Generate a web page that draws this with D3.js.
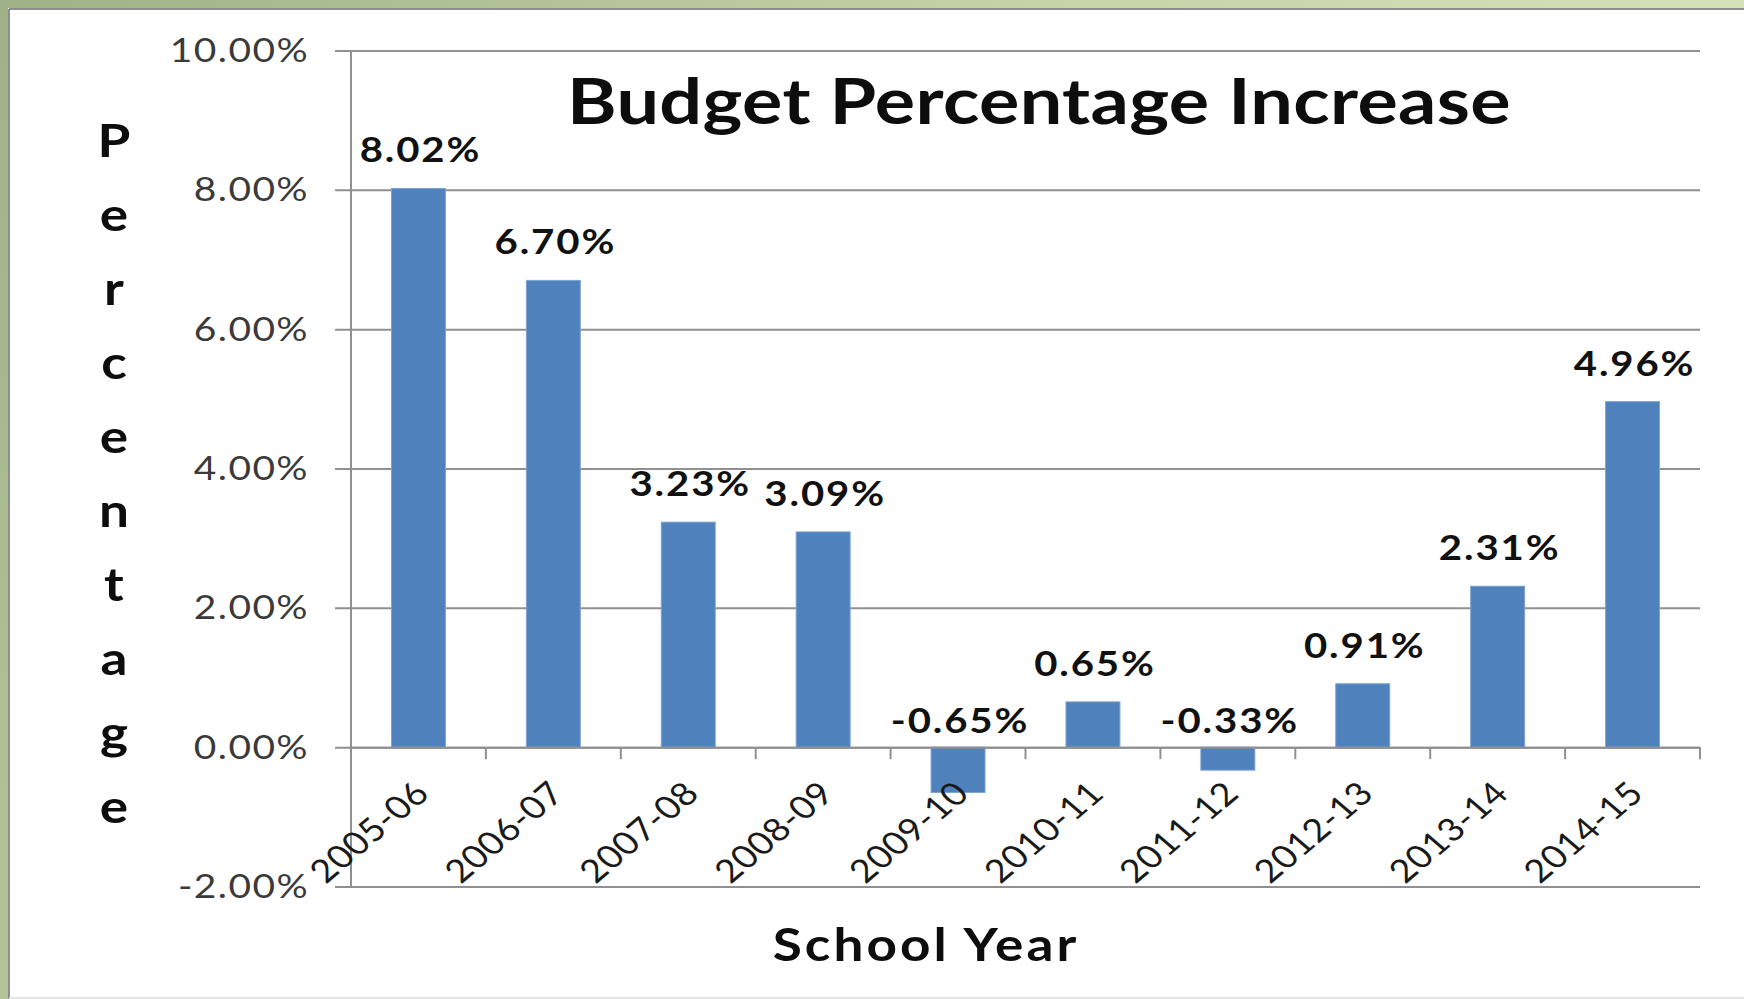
<!DOCTYPE html>
<html>
<head>
<meta charset="utf-8">
<script src="https://cdn.jsdelivr.net/npm/d3@7"></script>
<style>
  html, body { margin: 0; padding: 0; background: #fff; }
  svg { display: block; }
  text { font-family: Lato, "Open Sans", sans-serif; }
</style>
</head>
<body>
<div id="chart"></div>
<script>
// data
var categories = ["2005-06", "2006-07", "2007-08", "2008-09", "2009-10",
                  "2010-11", "2011-12", "2012-13", "2013-14", "2014-15"];
var values = [8.02, 6.70, 3.23, 3.09, -0.65, 0.65, -0.33, 0.91, 2.31, 4.96];
var yTicks = [-2, 0, 2, 4, 6, 8, 10];
var yTitleLetters = "Percentage".split("");

var width = 1744, height = 999
  , plotLeft = 351, plotRight = 1700
  , plotTop = 50.5, plotBottom = 886.5
  , stretch = 1.18          // the picture text is a bit wide
  , barColor = "#4F81BD"
  , gridColor = "#909090";

var svg = d3.select("#chart").append("svg")
    .attr("width", width)
    .attr("height", height);

// frame round the slide
var defs = svg.append("defs");
var grad = defs.append("linearGradient")
    .attr("id", "frame")
    .attr("gradientUnits", "userSpaceOnUse")
    .attr("x1", 0).attr("y1", 0).attr("x2", width).attr("y2", height);
grad.append("stop").attr("offset", "0%").attr("stop-color", "#9fb287");
grad.append("stop").attr("offset", "45%").attr("stop-color", "#c3d4a6");
grad.append("stop").attr("offset", "100%").attr("stop-color", "#e2ecca");

svg.append("rect").attr("x", 0).attr("y", 0).attr("width", width).attr("height", 8).attr("fill", "url(#frame)");
svg.append("rect").attr("x", 0).attr("y", 0).attr("width", 8).attr("height", height).attr("fill", "url(#frame)");
svg.append("line").attr("x1", 9).attr("x2", width).attr("y1", 9).attr("y2", 9)
    .attr("stroke", "#8e8e8e").attr("stroke-width", 2);
svg.append("line").attr("x1", 9).attr("x2", 9).attr("y1", 9).attr("y2", height)
    .attr("stroke", "#8e8e8e").attr("stroke-width", 2);
svg.append("line").attr("x1", 9).attr("x2", width).attr("y1", height - 1).attr("y2", height - 1)
    .attr("stroke", "#e4e4e4").attr("stroke-width", 2);

// scales
var y = d3.scaleLinear().domain([-2, 10]).range([plotBottom, plotTop]);
var xBand = d3.scaleBand().domain(categories).range([plotLeft, plotRight]).padding(0);
var xBar = d3.scaleBand().domain(categories).range([plotLeft, plotRight])
    .paddingInner(0.6).paddingOuter(0.3);

// plain hyphen for negatives, like the original
var locale = d3.formatLocale({decimal: ".", thousands: ",", grouping: [3], currency: ["", ""], minus: "-"});
var fmt = function (d) { return locale.format(".2f")(d) + "%"; };

// y axis with gridlines
var yAxis = d3.axisLeft(y)
    .tickValues(yTicks)
    .tickFormat(fmt)
    .tickSizeInner(-(plotRight - plotLeft))
    .tickSizeOuter(0);

var gy = svg.append("g")
    .attr("transform", "translate(" + plotLeft + ",0)")
    .call(yAxis);
gy.select(".domain").remove();
gy.selectAll(".tick line")
    .attr("x1", -16)
    .attr("stroke", gridColor)
    .attr("stroke-width", 2);
gy.selectAll(".tick text")
    .attr("x", null)
    .attr("dy", "0.33em")
    .attr("text-anchor", "end")
    .attr("transform", "translate(-42,0) scale(" + stretch + ",1)")
    .style("font-size", "33px")
    .style("letter-spacing", "1.2px")
    .style("fill", "#3a3a3a");

// y axis line
svg.append("line")
    .attr("x1", plotLeft).attr("x2", plotLeft)
    .attr("y1", y(10)).attr("y2", y(-2))
    .attr("stroke", gridColor).attr("stroke-width", 2);

// bars
svg.append("g").selectAll("rect")
    .data(values)
    .enter().append("rect")
    .attr("x", function (d, i) { return xBar(categories[i]); })
    .attr("y", function (d) { return y(Math.max(0, d)); })
    .attr("width", xBar.bandwidth())
    .attr("height", function (d) { return Math.abs(y(d) - y(0)); })
    .attr("fill", barColor)
    .attr("stroke", "#7ea3d3")
    .attr("stroke-width", 1);

// category axis at zero
var xAxis = d3.axisBottom(xBand).tickSize(0).tickSizeOuter(0);
var gx = svg.append("g")
    .attr("transform", "translate(0," + y(0) + ")")
    .call(xAxis);
gx.select(".domain")
    .attr("stroke", gridColor)
    .attr("stroke-width", 2);
gx.selectAll(".tick text")
    .attr("y", null)
    .attr("dy", null)
    .attr("text-anchor", "end")
    .attr("transform", "translate(13,48) scale(" + stretch + ",1) rotate(-45)")
    .style("font-size", "32px")
    .style("letter-spacing", "0.5px")
    .style("fill", "#1a1a1a");

// tick marks between categories
var bounds = categories.map(function (c) { return xBand(c); }).concat([plotRight]);
gx.selectAll(".sep")
    .data(bounds)
    .enter().append("line")
    .attr("class", "sep")
    .attr("x1", function (d) { return d; })
    .attr("x2", function (d) { return d; })
    .attr("y1", 0)
    .attr("y2", 12)
    .attr("stroke", gridColor)
    .attr("stroke-width", 2);

// data labels
svg.append("g").selectAll("text")
    .data(values)
    .enter().append("text")
    .attr("text-anchor", "middle")
    .attr("transform", function (d, i) {
        var cx = xBar(categories[i]) + xBar.bandwidth() / 2 + 2;
        var ty = d >= 0 ? y(d) - 26 : y(0) - 14;
        return "translate(" + cx + "," + ty + ") scale(" + stretch + ",1)";
    })
    .style("font-size", "34px")
    .style("letter-spacing", "1.6px")
    .style("font-weight", "bold")
    .style("fill", "#111")
    .text(fmt);

// title
svg.append("text")
    .attr("text-anchor", "middle")
    .attr("transform", "translate(1039," + 124 + ") scale(" + stretch + ",1)")
    .style("font-size", "64px")
    .style("letter-spacing", "0.3px")
    .style("font-weight", "bold")
    .style("fill", "#0d0d0d")
    .text("Budget Percentage Increase");

// x axis title
svg.append("text")
    .attr("text-anchor", "middle")
    .attr("transform", "translate(926,961) scale(" + stretch + ",1)")
    .style("font-size", "45px")
    .style("letter-spacing", "2.6px")
    .style("font-weight", "bold")
    .style("fill", "#0d0d0d")
    .text("School Year");

// y axis title, one letter per line
svg.append("g").selectAll("text")
    .data(yTitleLetters)
    .enter().append("text")
    .attr("text-anchor", "middle")
    .attr("transform", function (d, i) {
        return "translate(114," + (157 + i * 74) + ") scale(" + stretch + ",1)";
    })
    .style("font-size", "45px")
    .style("font-weight", "bold")
    .style("fill", "#0d0d0d")
    .text(function (d) { return d; });
</script>
</body>
</html>
